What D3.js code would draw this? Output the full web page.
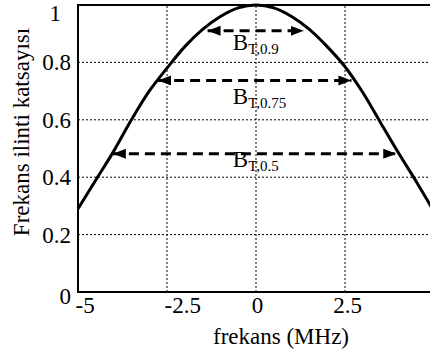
<!DOCTYPE html>
<html>
<head>
<meta charset="utf-8">
<script src="https://cdn.jsdelivr.net/npm/d3@7"></script>
<style>
  body { margin: 0; background: #fff; }
  svg { display: block; }
  text { font-family: "Liberation Serif", "Times New Roman", Times, "DejaVu Serif", serif; }
</style>
</head>
<body>
<div id="chart"></div>
<script>
// correlation curve
const freq = [-5, -4.5, -4, -3.5, -3, -2.5, -2, -1.5, -1, -0.5, 0, 0.5, 1, 1.5, 2, 2.5, 3, 3.5, 4, 4.5, 5];
const coef = [0.29, 0.39, 0.49, 0.60, 0.70, 0.78, 0.855, 0.915, 0.96, 0.99, 1.0, 0.99, 0.96, 0.915, 0.855, 0.785, 0.695, 0.59, 0.485, 0.385, 0.28];

const xTicks = [-5, -2.5, 0, 2.5, 5];
const yTicks = [0, 0.2, 0.4, 0.6, 0.8, 1];
const xGrid = [-2.5, 0, 2.5];
const yGrid = [0.2, 0.4, 0.6, 0.8];

// coherence bandwidth arrows
const bandNames = ["0.9", "0.75", "0.5"];
const bandLevel = [0.91, 0.737, 0.482];
const bandLeft = [-1.36, -2.75, -4.02];
const bandRight = [1.34, 2.68, 3.94];
const bandLabelY = [0.842, 0.656, 0.436];
const bandLabelX = -0.65;

const width = 430, height = 349;
const x = d3.scaleLinear().domain([-5, 5]).range([78, 434]);
const y = d3.scaleLinear().domain([0, 1]).range([292, 5]);

const svg = d3.select("#chart").append("svg")
    .attr("width", width)
    .attr("height", height);

svg.append("defs").append("marker")
    .attr("id", "head")
    .attr("markerUnits", "userSpaceOnUse")
    .attr("markerWidth", 14)
    .attr("markerHeight", 12)
    .attr("refX", 13)
    .attr("refY", 5)
    .attr("orient", "auto-start-reverse")
  .append("path")
    .attr("d", "M0,0L13,5L0,10Z")
    .attr("fill", "#000");

// grid
svg.append("g")
    .attr("stroke", "#000")
    .attr("stroke-width", 1)
    .attr("stroke-dasharray", "2,2")
  .selectAll("line.v")
  .data(xGrid)
  .join("line")
    .attr("x1", d => x(d)).attr("x2", d => x(d))
    .attr("y1", y(0)).attr("y2", y(1));

svg.append("g")
    .attr("stroke", "#000")
    .attr("stroke-width", 1)
    .attr("stroke-dasharray", "2,2")
  .selectAll("line.h")
  .data(yGrid)
  .join("line")
    .attr("x1", x(-5)).attr("x2", x(5))
    .attr("y1", d => y(d)).attr("y2", d => y(d));

// curve
const pts = freq.map((f, i) => [f, coef[i]]);
svg.append("path")
    .datum(pts)
    .attr("fill", "none")
    .attr("stroke", "#000")
    .attr("stroke-width", 3)
    .attr("d", d3.line().x(d => x(d[0])).y(d => y(d[1])).curve(d3.curveCatmullRom));

// frame
svg.append("rect")
    .attr("x", x(-5)).attr("y", y(1))
    .attr("width", x(5) - x(-5)).attr("height", y(0) - y(1))
    .attr("fill", "none")
    .attr("stroke", "#000")
    .attr("stroke-width", 2);

// arrows
svg.append("g")
  .selectAll("line")
  .data(bandNames)
  .join("line")
    .attr("x1", (d, i) => x(bandLeft[i]))
    .attr("x2", (d, i) => x(bandRight[i]))
    .attr("y1", (d, i) => y(bandLevel[i]))
    .attr("y2", (d, i) => y(bandLevel[i]))
    .attr("stroke", "#000")
    .attr("stroke-width", 3)
    .attr("stroke-dasharray", "10,6")
    .attr("marker-start", "url(#head)")
    .attr("marker-end", "url(#head)");

const lab = svg.append("g")
  .selectAll("text")
  .data(bandNames)
  .join("text")
    .attr("x", x(bandLabelX))
    .attr("y", (d, i) => y(bandLabelY[i]))
    .attr("font-size", 23);
lab.append("tspan").text("B");
lab.append("tspan")
    .attr("font-size", 15)
    .attr("dy", 4)
    .text(d => "T," + d);

// axes
const xa = svg.append("g")
    .attr("transform", `translate(0,${y(0)})`)
    .call(d3.axisBottom(x).tickValues(xTicks).tickSize(0).tickFormat(d => String(d)));
xa.select(".domain").remove();
xa.attr("font-family", null).attr("font-size", null);
xa.selectAll("text")
    .attr("font-size", 23)
    .attr("fill", "#000")
    .attr("y", 21)
    .attr("dy", 0)
    .attr("text-anchor", d => d < 0 ? "start" : "middle")
    .attr("x", d => d < 0 ? -3 : (d > 0 ? 2 : 1));

const ya = svg.append("g")
    .attr("transform", `translate(${x(-5)},0)`)
    .call(d3.axisLeft(y).tickValues(yTicks).tickSize(0).tickFormat(d => String(d)));
ya.select(".domain").remove();
ya.attr("font-family", null).attr("font-size", null);
ya.selectAll("text")
    .attr("font-size", 23)
    .attr("fill", "#000")
    .attr("x", d => d === 1 ? -17 : -7)
    .attr("dy", d => d === 1 ? 15 : (d === 0 ? 11 : 7.5));

svg.append("text")
    .attr("x", 281)
    .attr("y", 344)
    .attr("text-anchor", "middle")
    .attr("font-size", 23)
    .text("frekans (MHz)");

svg.append("text")
    .attr("transform", "translate(29,132) rotate(-90)")
    .attr("text-anchor", "middle")
    .attr("font-size", 23)
    .text("Frekans ilinti katsayısı");
</script>
</body>
</html>
